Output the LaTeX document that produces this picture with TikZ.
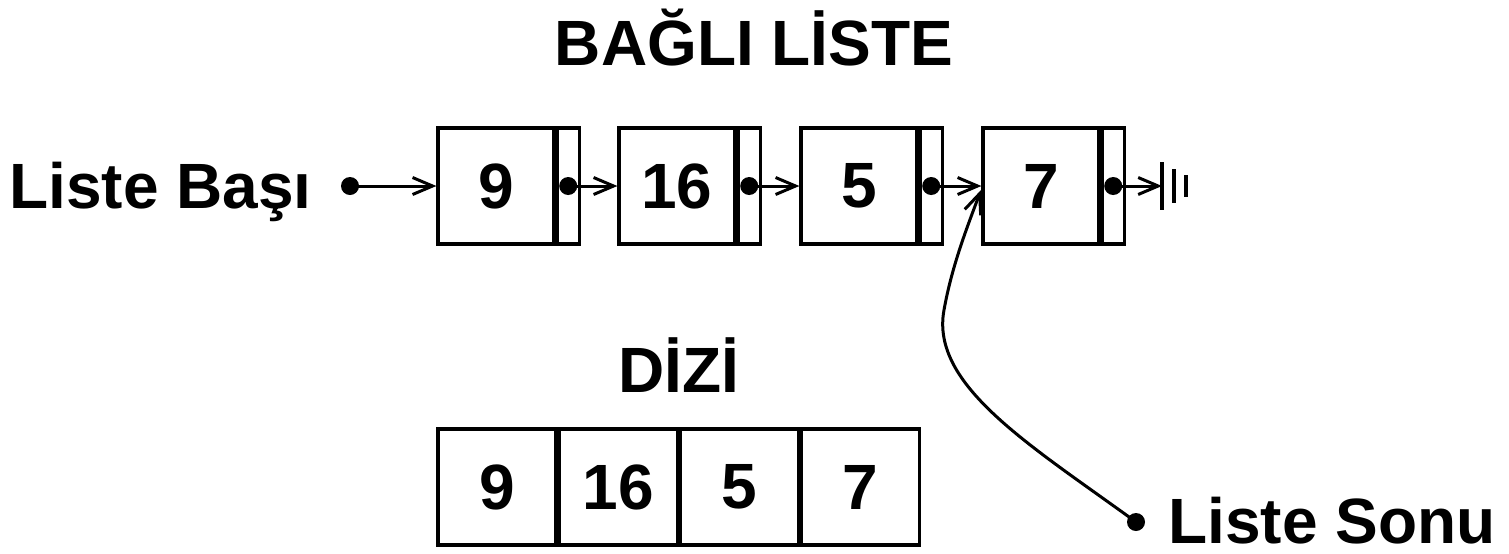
\documentclass[tikz,border=0pt]{standalone}
\usepackage{fontspec}
\setmainfont{Liberation Sans}
\usetikzlibrary{arrows.meta}
\tikzset{
  lbl/.style={font=\fontsize{32}{38}\selectfont\bfseries, inner sep=0pt},
  dbox/.style={draw, line width=1.6pt, minimum width=58pt, minimum height=58pt, inner sep=0pt, font=\fontsize{32}{38}\selectfont\bfseries},
  pbox/.style={draw, line width=1.6pt, minimum width=11pt, minimum height=58pt, inner sep=0pt},
  cell/.style={draw, line width=1.6pt, minimum width=59pt, minimum height=58pt, inner sep=0pt, font=\fontsize{32}{38}\selectfont\bfseries},
  dot/.style={circle, fill, inner sep=0pt, minimum size=9pt},
  link/.style={line width=1.5pt, -{Straight Barb[length=10pt,width=8.5pt,line width=1.5pt]}},
  bar/.style={line width=2.2pt},
}
\begin{document}
\begin{tikzpicture}[x=0.5pt,y=-0.5pt]
\useasboundingbox (0,0) rectangle (1509,553);
% title
\node[lbl, anchor=base] (title) at (754,65) {BAĞLI LİSTE};
% linked list
\node[dbox] (d1) at (496,186) {9};
\node[pbox, anchor=west] (p1) at (d1.east) {};
\node[dbox] (d2) at (677,186) {16};
\node[pbox, anchor=west] (p2) at (d2.east) {};
\node[dbox] (d3) at (859,186) {5};
\node[pbox, anchor=west] (p3) at (d3.east) {};
\node[dbox] (d4) at (1041,186) {7};
\node[pbox, anchor=west] (p4) at (d4.east) {};
\node[dot] (q1) at (p1.center) {};
\node[dot] (q2) at (p2.center) {};
\node[dot] (q3) at (p3.center) {};
\node[dot] (q4) at (p4.center) {};
\draw[link] (q1.center) -- (d2.west);
\draw[link] (q2.center) -- (d3.west);
\draw[link] (q3.center) -- (d4.west);
% ground
\coordinate (g1) at (1162,186);
\draw[link] (q4.center) -- (g1);
\draw[bar] (1162,162) -- (1162,210);
\draw[bar] (1174,169) -- (1174,203);
\draw[bar] (1186,175) -- (1186,197);
% head
\node[lbl, anchor=base east] (bas) at (312,208) {Liste Başı};
\node[dot] (hd) at (350,186) {};
\draw[link] (hd.center) -- (d1.west);
% array
\node[lbl, anchor=base] (dizi) at (679,392) {DİZİ};
\node[cell] (a1) at (497,487) {9};
\node[cell, anchor=west] (a2) at (a1.east) {16};
\node[cell, anchor=west] (a3) at (a2.east) {5};
\node[cell, anchor=west] (a4) at (a3.east) {7};
% tail
\node[lbl, anchor=base west] (son) at (1168,543) {Liste Sonu};
\node[dot] (sd) at (1136,522) {};
\coordinate (tip) at (981,190);
\draw[link] (sd.center) .. controls (1030,445) and (930,385) .. (944,310)
   .. controls (952,265) and (968,225) .. (tip);
\end{tikzpicture}
\end{document}
